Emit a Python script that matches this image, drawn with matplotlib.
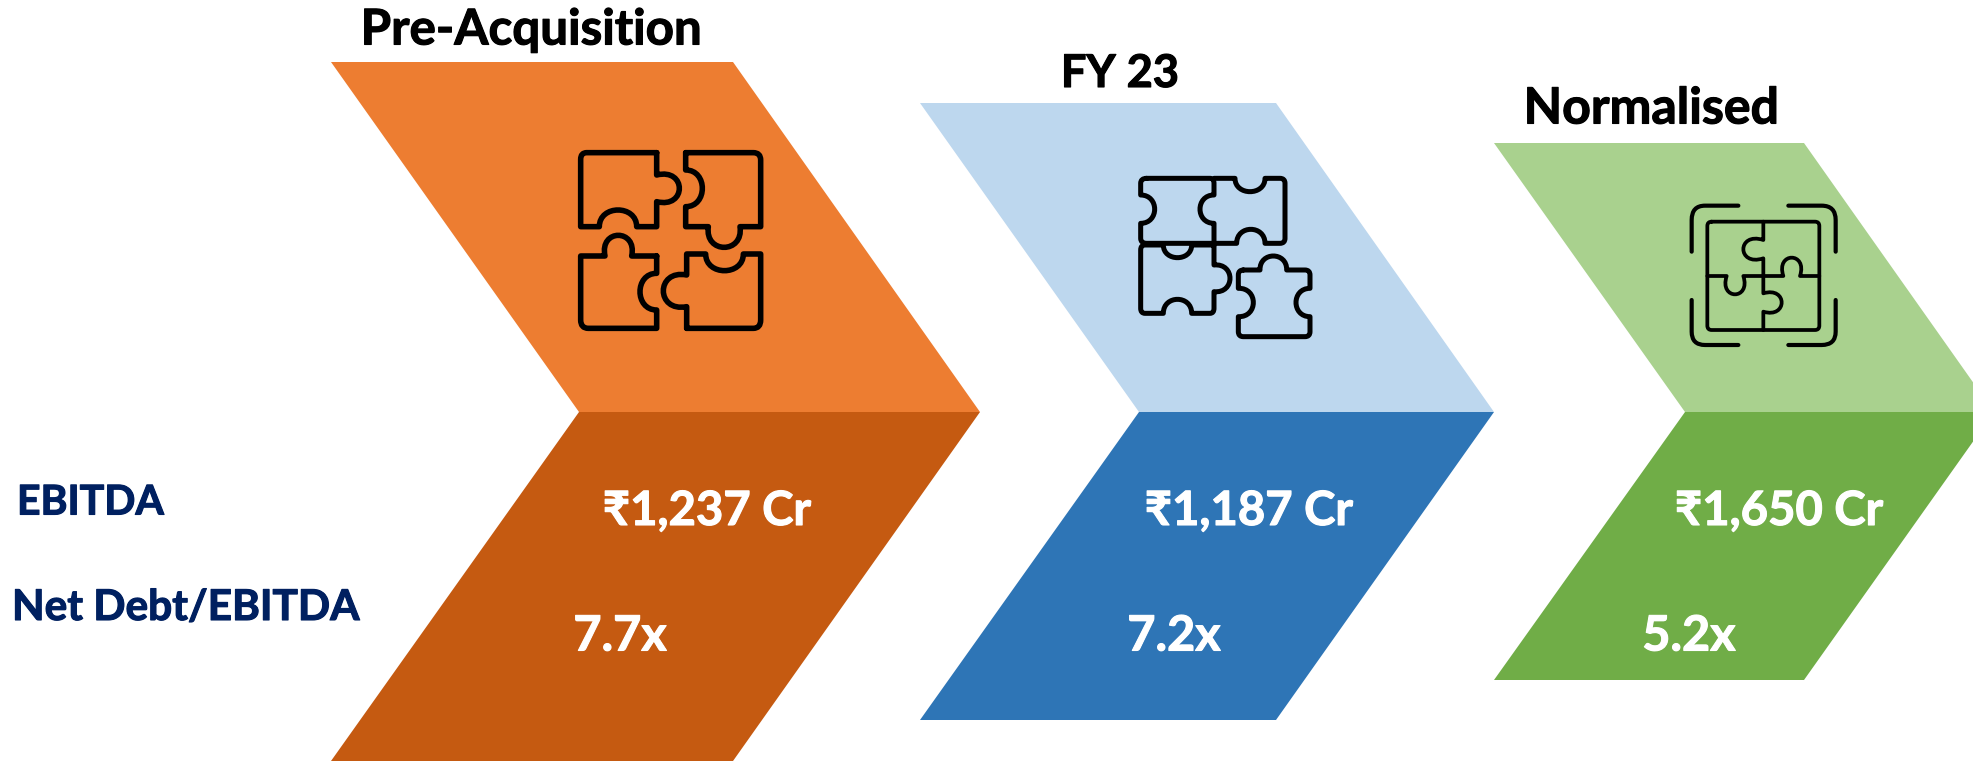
# -*- coding: utf-8 -*-
import numpy as np
import matplotlib
matplotlib.use("Agg")
import matplotlib.pyplot as plt
import matplotlib.patheffects as pe
from matplotlib.patches import Polygon, PathPatch
from matplotlib.path import Path

W, H = 1974, 761
FONT = ["Lato", "DejaVu Sans"]

# chart content
periods = ["Pre-Acquisition", "FY 23", "Normalised"]
ebitda = ["₹1,237 Cr", "₹1,187 Cr", "₹1,650 Cr"]
net_debt_ratio = ["7.7x", "7.2x", "5.2x"]
row_labels = ["EBITDA", "Net Debt/EBITDA"]

light_colors = ["#ED7D31", "#BDD7EE", "#A9D18E"]
dark_colors = ["#C55A11", "#2E75B6", "#70AD47"]
navy = "#002060"

# chevron geometry in pixels: left x, right x, top y, bottom y, notch x, tip x
chevrons = [(331, 733, 62, 761, 579, 980), (920, 1276, 103, 720, 1139, 1494), (1494, 1804, 143, 680, 1685, 1994)]
split_y = 412

title_pos = [(531, 30, 35.5), (1120, 74, 32.5), (1651, 109, 36)]
ebitda_pos = [(707, 511), (1249, 511), (1779, 511)]
ratio_pos = [(620, 636), (1174, 636), (1689, 636)]
row_pos = [(17, 503, 29.5), (12, 608, 30.5)]

# icon outlines, written in the coordinates of a 3x crop:
# (x, y) line, (cx, cy, x, y) rounded corner, (x, y, h) puzzle bump of height h
icon_one = [
    [(350, 68), (140, 68), (122, 68, 122, 88), (122, 290), (178, 290), (290, 290, 50), (350, 290), (350, 215), (350, 135, -68), (350, 68)],
    [(437, 68), (640, 68), (662, 68, 662, 90), (662, 290), (600, 290), (505, 290, 62), (437, 290), (437, 230), (437, 120, -50), (437, 68)],
    [(350, 378), (275, 378), (195, 378, -62), (122, 378), (122, 570), (122, 595, 145, 595), (350, 595), (350, 540), (350, 430, 50), (350, 378)],
    [(440, 595), (640, 595), (662, 595, 662, 570), (662, 372), (610, 372), (497, 372, 50), (440, 372), (440, 435), (440, 530, -70), (440, 595)],
]
icon_two = [
    [(110, 55), (300, 55), (312, 55, 312, 70), (312, 105), (312, 190, -42), (312, 250), (110, 250), (92, 250, 92, 235), (92, 190), (92, 105, -42), (92, 70), (92, 55, 110, 55)],
    [(312, 55), (375, 55), (465, 55, -40), (510, 55), (525, 55, 525, 70), (525, 235), (525, 250, 510, 250), (465, 250), (380, 250, -42), (312, 250)],
    [(312, 255), (245, 255), (160, 255, 38), (105, 255), (92, 255, 92, 270), (92, 445), (92, 460, 105, 460), (160, 460), (245, 460, 42), (300, 460), (312, 460, 312, 445), (312, 395), (312, 315, -48), (312, 255)],
    [(400, 330), (450, 330), (530, 330, 42), (585, 330), (600, 330, 600, 345), (600, 385), (600, 470, -42), (600, 515), (600, 530, 585, 530), (400, 530), (385, 530, 385, 515), (385, 470), (385, 385, -45), (385, 345), (385, 330, 400, 330)],
]
icon_three = [
    [(125, 95), (435, 95), (448, 95, 448, 108), (448, 407), (448, 420, 435, 420), (125, 420), (112, 420, 112, 407), (112, 108), (112, 95, 125, 95)],
    [(280, 95), (280, 150), (280, 205, -60), (280, 310), (280, 365, 55), (280, 420)],
    [(112, 258), (170, 258), (220, 258, -55), (340, 258), (390, 258, 55), (448, 258)],
]
icon_three_brackets = [
    [(205, 47), (105, 47), (65, 47, 65, 90), (65, 185)],
    [(355, 47), (455, 47), (497, 47, 497, 90), (497, 185)],
    [(65, 330), (65, 425), (65, 465, 105, 465), (205, 465)],
    [(497, 330), (497, 425), (497, 465, 455, 465), (355, 465)],
]


def outline_path(outline, x0, y0):
    """Turn an outline from crop coordinates into a Path in figure pixels."""
    verts = [outline[0]]
    codes = [Path.MOVETO]
    last = np.array(outline[0], dtype=float)
    for seg in outline[1:]:
        if len(seg) == 2:
            verts.append(seg)
            codes.append(Path.LINETO)
            last = np.array(seg, dtype=float)
        elif len(seg) == 4:
            verts += [seg[:2], seg[2:]]
            codes += [Path.CURVE3, Path.CURVE3]
            last = np.array(seg[2:], dtype=float)
        else:
            end = np.array(seg[:2], dtype=float)
            d = end - last
            size = np.hypot(*d)
            normal = np.array([d[1], -d[0]]) / size
            lift = normal * seg[2] * 4 / 3
            # a bump taller than half its base gets a head wider than its neck
            spread = max(0.0, 0.8 * (abs(seg[2]) / size - 0.5))
            verts += [tuple(last + lift - d * spread), tuple(end + lift + d * spread), tuple(end)]
            codes += [Path.CURVE4, Path.CURVE4, Path.CURVE4]
            last = end
    pts = np.array(verts, dtype=float) / 3 + [x0, y0]
    return Path(pts, codes)


def draw_icon(ax, outlines, x0, y0, lw):
    for outline in outlines:
        ax.add_patch(PathPatch(outline_path(outline, x0, y0), fill=False, edgecolor="black",
                               linewidth=lw, capstyle="round", joinstyle="round", zorder=3))


def bold_text(ax, x, y, label, size, color, ha="center"):
    # Lato bold is a little lighter than the original face
    ax.text(x, y, label, fontsize=size, fontweight="bold", family=FONT, ha=ha, va="center", color=color,
            path_effects=[pe.withStroke(linewidth=0.8, foreground=color)])


fig = plt.figure(figsize=(W / 100, H / 100), dpi=100)
ax = fig.add_axes([0, 0, 1, 1])
ax.set_xlim(0, W)
ax.set_ylim(H, 0)
ax.axis("off")

for i, (left, right, top, bottom, notch, tip) in enumerate(chevrons):
    upper = [(left, top), (right, top), (tip, split_y), (notch, split_y)]
    lower = [(notch, split_y), (tip, split_y), (right, bottom), (left, bottom)]
    ax.add_patch(Polygon(upper, closed=True, facecolor=light_colors[i], edgecolor="none", zorder=1))
    ax.add_patch(Polygon(lower, closed=True, facecolor=dark_colors[i], edgecolor="none", zorder=1))

draw_icon(ax, icon_one, 540, 130, 4.0)
draw_icon(ax, icon_two, 1110, 160, 3.6)
draw_icon(ax, icon_three, 1670, 190, 2.7)
draw_icon(ax, icon_three_brackets, 1670, 190, 3.0)

for label, (x, y, size) in zip(periods, title_pos):
    bold_text(ax, x, y, label, size, "black")
for label, (x, y) in zip(ebitda, ebitda_pos):
    bold_text(ax, x, y, label, 34, "white")
for label, (x, y) in zip(net_debt_ratio, ratio_pos):
    bold_text(ax, x, y, label, 35, "white")
for label, (x, y, size) in zip(row_labels, row_pos):
    bold_text(ax, x, y, label, size, navy, ha="left")

fig.savefig("out.png", dpi=100)
plt.close(fig)
